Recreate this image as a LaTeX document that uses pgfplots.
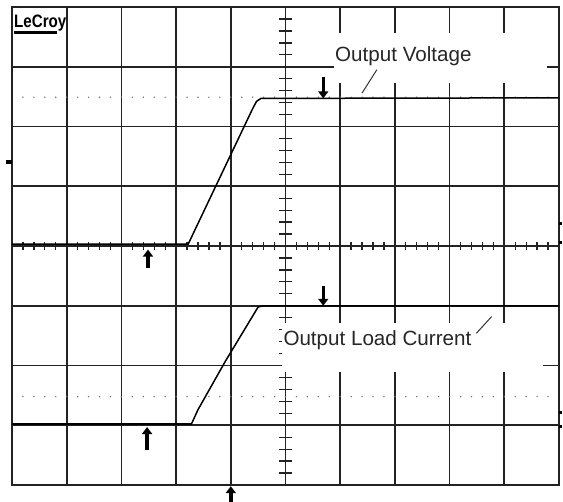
\documentclass[border=0pt]{standalone}
\usepackage{fontspec}
\setmainfont{Liberation Sans}
\usepackage{pgfplots}
\pgfplotsset{compat=1.18}
\usetikzlibrary{arrows.meta}
\definecolor{gridc}{RGB}{35,35,35}
\begin{document}
\begin{tikzpicture}[cur/.style={black, line width=3.4bp, -{Triangle[width=10bp,length=7bp]}}]
\fill[white] (-12bp,-17bp) rectangle (551bp,485bp);
\useasboundingbox (-12bp,-17bp) rectangle (551bp,485bp);
\begin{axis}[at={(0,0)}, anchor=south west, scale only axis,
  width=547bp, height=478bp,
  xmin=0, xmax=10, ymin=-4, ymax=4,
  xtick={0,...,10}, ytick={-4,...,4},
  xticklabels={}, yticklabels={},
  major tick length=0pt,
  xmajorgrids, ymajorgrids,
  major grid style={gridc, line width=1.7bp},
  axis line style={gridc, line width=1.8bp},
  clip=false]
% centre-axis minor ticks
\pgfplotsinvokeforeach{-19,...,19}{
  \draw[gridc, line width=1.3bp] (axis cs:4.881,#1/5) -- (axis cs:5.119,#1/5);
}
\pgfplotsinvokeforeach{1,...,49}{
  \draw[gridc, line width=1.3bp] (axis cs:#1/5,-0.07) -- (axis cs:#1/5,0.07);
}
% dotted rows
\pgfplotsinvokeforeach{1,...,49}{
  \fill[black!55] (axis cs:#1/5,2.49) circle (0.8bp);
  \fill[black!55] (axis cs:#1/5,-2.52) circle (0.8bp);
}
% label boxes
\fill[white] (axis cs:5.887,3.565) rectangle (axis cs:9.78,2.728);
\fill[white] (axis cs:4.936,-1.289) rectangle (axis cs:9.707,-2.109);
% labels
\node[anchor=base west, inner sep=0, font=\fontsize{20.6bp}{24bp}\selectfont, text=black!85] at (axis cs:5.905,3.08) {Output Voltage};
\node[anchor=base west, inner sep=0, font=\fontsize{20.6bp}{24bp}\selectfont, text=black!85] at (axis cs:4.96,-1.657) {Output Load Current};
\draw[black!80, line width=1bp] (axis cs:6.67,2.95) -- (axis cs:6.40,2.56);
\draw[black!80, line width=1bp] (axis cs:8.49,-1.46) -- (axis cs:8.77,-1.18);
% logo
\node[anchor=base west, inner sep=0, xscale=0.84, font=\bfseries\fontsize{18bp}{20bp}\selectfont] at (axis cs:0.037,3.66) {LeCroy};
\draw[black, line width=2.4bp] (axis cs:0.037,3.573) -- (axis cs:0.823,3.573);
% traces
\addplot[black, line width=1.5bp] coordinates {
 (0,0.03) (3.22,0.03) (4.40,2.30) (4.47,2.42) (4.55,2.47) (10,2.48)};
\addplot[black, line width=1.5bp] coordinates {
 (0,-2.98) (3.28,-2.98) (3.40,-2.74) (3.90,-1.93) (4.50,-1.02) (4.6,-1.0) (10,-1.0)};
\draw[black, line width=2.6bp] (axis cs:0,-2.98) -- (axis cs:3.28,-2.98);
% cursor arrows
\draw[cur] (axis cs:2.486,-0.37) -- (axis cs:2.486,-0.06);
\draw[cur] (axis cs:5.69,2.83) -- (axis cs:5.69,2.47);
\draw[cur] (axis cs:5.69,-0.67) -- (axis cs:5.69,-1.0);
\draw[cur] (axis cs:2.47,-3.42) -- (axis cs:2.47,-3.03);
\draw[cur] (axis cs:4.0,-4.29) -- (axis cs:4.0,-4.02);
% edge markers
\fill[black] (axis cs:-0.11,1.37) rectangle (axis cs:0,1.44);
\fill[black] (axis cs:10,0.35) rectangle (axis cs:10.055,0.40);
\fill[black] (axis cs:10,0.03) rectangle (axis cs:10.055,0.08);
\fill[black] (axis cs:10,-2.81) rectangle (axis cs:10.055,-2.76);
\fill[black] (axis cs:10,-3.05) rectangle (axis cs:10.055,-3.00);
\end{axis}
\end{tikzpicture}
\end{document}
